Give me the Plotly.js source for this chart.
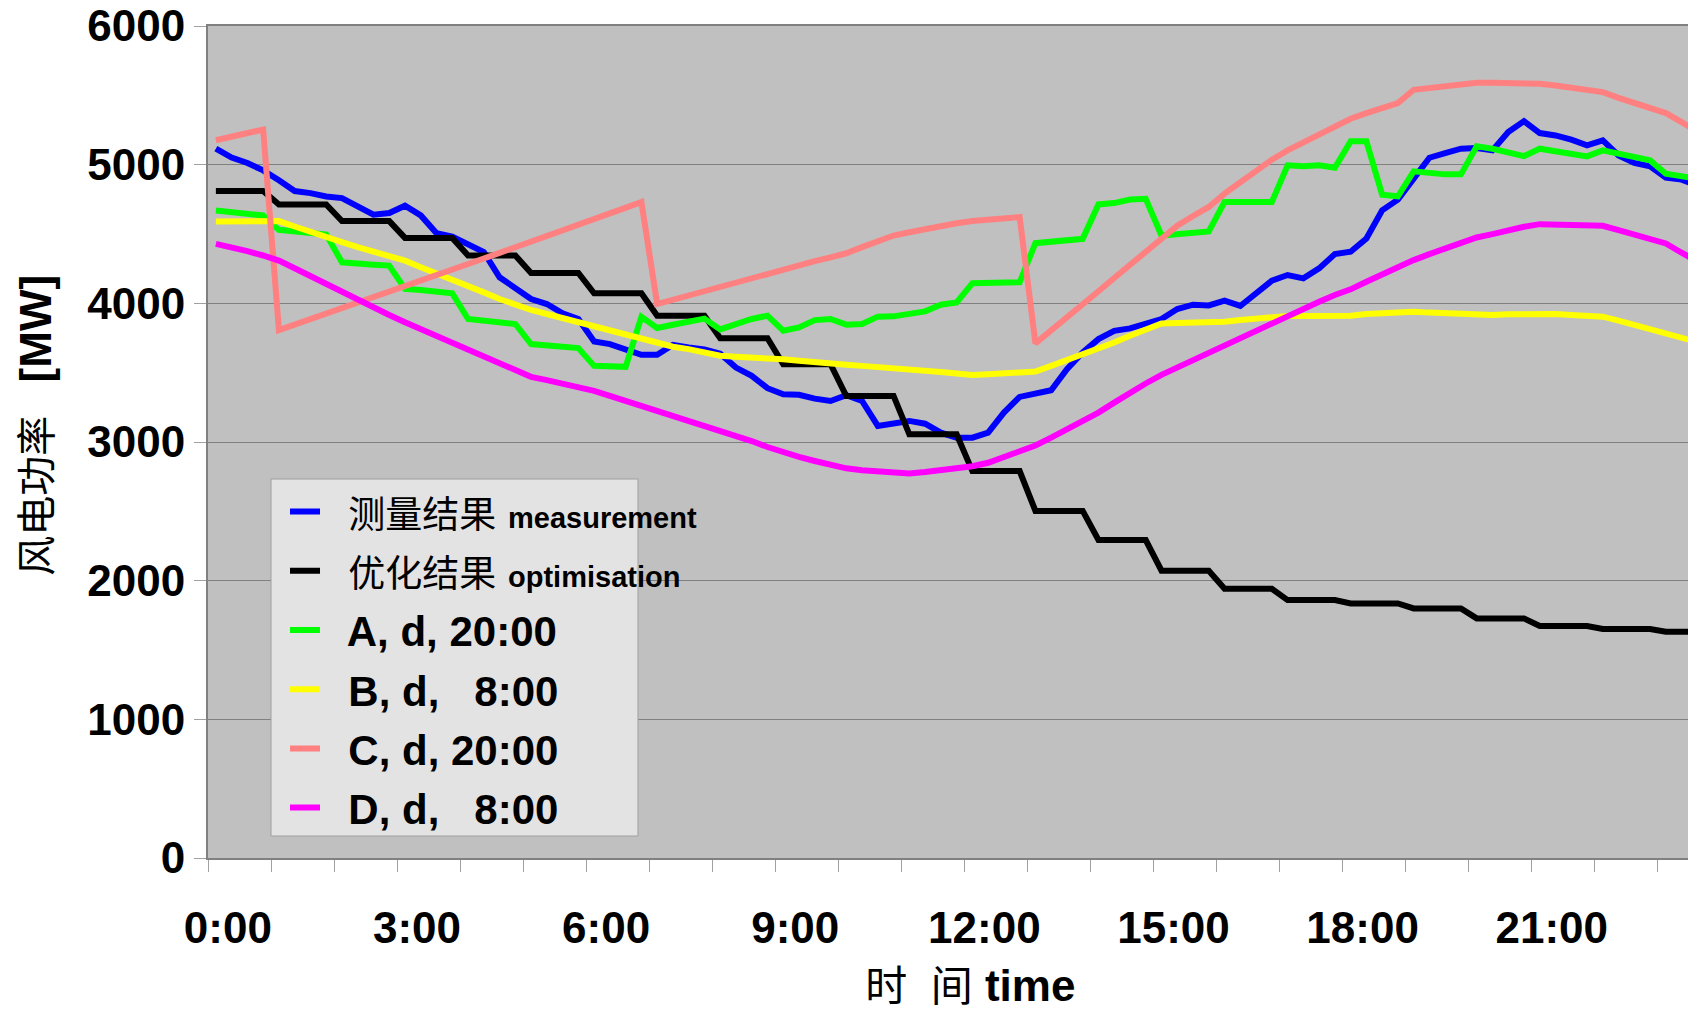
<!DOCTYPE html>
<html>
<head>
<meta charset="utf-8">
<script src="https://cdn.plot.ly/plotly-3.0.1.min.js"></script>
<style>
  html, body { margin: 0; padding: 0; overflow: hidden; background: #ffffff; }
  #chart { width: 1741px; height: 1010px; }
</style>
</head>
<body>
<div id="chart"></div>
<script>
// 15-minute time slots (categories)
const times = ["0:00","0:15","0:30","0:45","1:00","1:15","1:30","1:45","2:00","2:15","2:30","2:45",
  "3:00","3:15","3:30","3:45","4:00","4:15","4:30","4:45","5:00","5:15","5:30","5:45",
  "6:00","6:15","6:30","6:45","7:00","7:15","7:30","7:45","8:00","8:15","8:30","8:45",
  "9:00","9:15","9:30","9:45","10:00","10:15","10:30","10:45","11:00","11:15","11:30","11:45",
  "12:00","12:15","12:30","12:45","13:00","13:15","13:30","13:45","14:00","14:15","14:30","14:45",
  "15:00","15:15","15:30","15:45","16:00","16:15","16:30","16:45","17:00","17:15","17:30","17:45",
  "18:00","18:15","18:30","18:45","19:00","19:15","19:30","19:45","20:00","20:15","20:30","20:45",
  "21:00","21:15","21:30","21:45","22:00","22:15","22:30","22:45","23:00","23:15","23:30","23:45"];

const tickLabels = ["0:00","3:00","6:00","9:00","12:00","15:00","18:00","21:00"];
const yTicks = [0, 1000, 2000, 3000, 4000, 5000, 6000];

const measurement = [5116,5051,5012,4959,4887,4810,4795,4771,4759,4699,4639,4651,
  4704,4634,4506,4482,4429,4369,4188,4104,4031,3995,3928,3887,
  3725,3706,3670,3629,3629,3701,3682,3668,3636,3537,3477,3388,
  3344,3340,3313,3296,3337,3296,3116,3132,3152,3132,3067,3031,
  3031,3067,3212,3325,3344,3373,3525,3646,3742,3802,3819,3858,
  3887,3959,3990,3985,4019,3981,4072,4163,4204,4180,4252,4355,
  4372,4468,4671,4748,4899,5050,5084,5115,5120,5103,5235,5314,
  5228,5211,5180,5139,5175,5067,5012,4988,4906,4892,4850,4800];

const optimisation = [4810,4810,4810,4810,4713,4713,4713,4713,4593,4593,4593,4593,
  4472,4472,4472,4472,4345,4345,4345,4345,4219,4219,4219,4219,
  4072,4072,4072,4072,3911,3911,3911,3911,3749,3749,3749,3749,
  3561,3561,3561,3561,3332,3332,3332,3332,3055,3055,3055,3055,
  2790,2790,2790,2790,2503,2503,2503,2503,2293,2293,2293,2293,
  2072,2072,2072,2072,1942,1942,1942,1942,1860,1860,1860,1860,
  1836,1836,1836,1836,1800,1800,1800,1800,1728,1728,1728,1728,
  1673,1673,1673,1673,1651,1651,1651,1651,1632,1632,1632,1632];

const seriesA = [4670,4658,4646,4634,4530,4518,4506,4496,4296,4284,4279,4272,
  4104,4096,4087,4072,3887,3875,3863,3851,3706,3694,3687,3677,
  3549,3542,3542,3903,3822,3846,3863,3890,3812,3855,3887,3911,
  3802,3826,3879,3887,3846,3851,3904,3906,3923,3942,3990,4007,
  4145,4147,4149,4152,4434,4441,4458,4465,4713,4723,4749,4754,
  4489,4501,4513,4518,4731,4731,4739,4731,4995,4988,4995,4978,
  5168,5168,4784,4772,4952,4940,4930,4930,5132,5115,5091,5062,
  5115,5098,5079,5060,5103,5079,5055,5031,4935,4916,4900,4880];

const seriesB = [4590,4590,4590,4590,4593,4554,4513,4477,4441,4405,4376,4345,
  4308,4260,4217,4176,4128,4079,4031,3990,3952,3923,3894,3863,
  3834,3802,3771,3742,3711,3687,3670,3646,3622,3614,3610,3605,
  3597,3586,3573,3566,3557,3549,3542,3532,3523,3513,3504,3494,
  3484,3489,3494,3499,3508,3549,3590,3629,3670,3718,3766,3814,
  3855,3858,3860,3866,3868,3880,3892,3899,3909,3909,3909,3909,
  3911,3923,3928,3933,3940,3933,3928,3921,3914,3916,3921,3923,
  3928,3923,3916,3911,3904,3875,3844,3820,3789,3755,3720,3690];

const seriesC = [5176,5200,5224,5253,3807,3846,3884,3923,3961,4005,4043,4082,
  4123,4164,4205,4243,4284,4323,4364,4405,4446,4487,4528,4569,
  4610,4651,4692,4730,3995,4026,4062,4095,4128,4159,4188,4219,
  4248,4277,4304,4332,4361,4405,4446,4489,4513,4537,4557,4578,
  4593,4602,4612,4622,3711,3802,3894,3990,4087,4183,4279,4376,
  4472,4560,4630,4695,4791,4875,4959,5036,5103,5163,5223,5278,
  5331,5372,5410,5444,5540,5552,5564,5578,5590,5590,5588,5585,
  5583,5571,5554,5540,5523,5482,5444,5408,5372,5307,5240,5170];

const seriesD = [4429,4405,4376,4345,4308,4253,4195,4140,4084,4026,3971,3916,
  3863,3814,3766,3718,3665,3614,3568,3518,3470,3446,3422,3397,
  3369,3332,3296,3260,3224,3188,3152,3118,3085,3048,3007,2964,
  2923,2892,2863,2834,2810,2797,2790,2783,2773,2783,2795,2807,
  2825,2850,2892,2930,2975,3031,3091,3152,3212,3284,3356,3422,
  3484,3537,3590,3643,3693,3748,3803,3856,3916,3964,4012,4060,
  4101,4156,4209,4259,4312,4355,4396,4436,4475,4499,4528,4552,
  4571,4568,4566,4564,4559,4528,4496,4468,4432,4365,4300,4240];

const seriesNames = [
  '  <span style="font-weight:normal;font-size:37px">测量结果</span> <span style="font-size:29px">measurement</span>',
  '  <span style="font-weight:normal;font-size:37px">优化结果</span> <span style="font-size:29px">optimisation</span>',
  '  A, d, 20:00',
  '  B, d,   8:00',
  '  C, d, 20:00',
  '  D, d,   8:00'
];
const seriesColors = ['#0000FF', '#000000', '#00FF00', '#FFFF00', '#FF8080', '#FF00FF'];
const seriesData = [measurement, optimisation, seriesA, seriesB, seriesC, seriesD];

const xIdx = times.map((t, i) => i);
const FONT = 'Liberation Sans, Arial, "Noto Sans CJK SC", sans-serif';

const traces = seriesData.map((vals, k) => ({
  type: 'scatter',
  mode: 'lines',
  x: xIdx,
  y: vals,
  customdata: times,
  hovertemplate: '%{customdata}: %{y}<extra></extra>',
  name: seriesNames[k],
  legendgroup: 'g' + k,
  line: { color: seriesColors[k], width: 6 }
}));

const layout = {
  width: 1741,
  height: 1010,
  margin: { l: 208, r: 20, t: 26, b: 152 },
  paper_bgcolor: '#FFFFFF',
  plot_bgcolor: '#C0C0C0',
  font: { family: FONT, size: 44, color: '#000000' },
  showlegend: true,
  legend: {
    x: 0.0509, xanchor: 'left',
    y: 0.4570, yanchor: 'top',
    bgcolor: 'rgba(0,0,0,0)',
    borderwidth: 0,
    itemwidth: 30,
    tracegroupgap: 1.6,
    font: { family: FONT, size: 42, color: '#000000', weight: 'bold' }
  },
  shapes: [{
    type: 'rect', xref: 'paper', yref: 'paper',
    x0: 0.04164, x1: 0.2842, y0: 0.02644, y1: 0.4555,
    fillcolor: '#E3E3E3',
    line: { color: '#A0A0A0', width: 1 },
    layer: 'above'
  }],
  xaxis: {
    type: 'linear',
    range: [-0.5, 95.5],
    tickmode: 'array',
    tickvals: tickLabels.map(l => times.indexOf(l)),
    ticktext: tickLabels,
    ticks: '',
    ticklabelshift: 12,
    ticklabelstandoff: 30,
    tickfont: { family: FONT, size: 44, color: '#000000', weight: 'bold' },
    showgrid: false,
    zeroline: false,
    showline: true,
    mirror: true,
    linecolor: '#808080',
    linewidth: 2,
    minor: {
      tickmode: 'linear', tick0: -0.5, dtick: 4,
      ticks: 'outside', ticklen: 12, tickwidth: 1, tickcolor: '#A0A0A0',
      showgrid: false
    },
    title: {
      text: '<span style="font-weight:normal;font-size:42px"> 时  间</span> time',
      font: { family: FONT, size: 44, color: '#000000', weight: 'bold' },
      standoff: 30
    },
    automargin: false,
    fixedrange: true
  },
  yaxis: {
    range: [0, 6000],
    tickmode: 'array',
    tickvals: yTicks,
    ticktext: yTicks.map(String),
    ticks: 'outside',
    ticklen: 12,
    tickwidth: 1,
    tickcolor: '#A0A0A0',
    ticklabelstandoff: 0,
    tickfont: { family: FONT, size: 44, color: '#000000', weight: 'bold' },
    showgrid: true,
    gridcolor: '#808080',
    gridwidth: 1,
    zeroline: false,
    showline: true,
    linecolor: '#808080',
    linewidth: 2,
    title: {
      text: '<span style="font-weight:normal;font-size:40px">   风电功率   </span>[MW]',
      font: { family: FONT, size: 44, color: '#000000', weight: 'bold' },
      standoff: 22
    },
    automargin: false,
    fixedrange: true
  }
};

Plotly.newPlot('chart', traces, layout, { displayModeBar: false, staticPlot: false });
</script>
</body>
</html>
